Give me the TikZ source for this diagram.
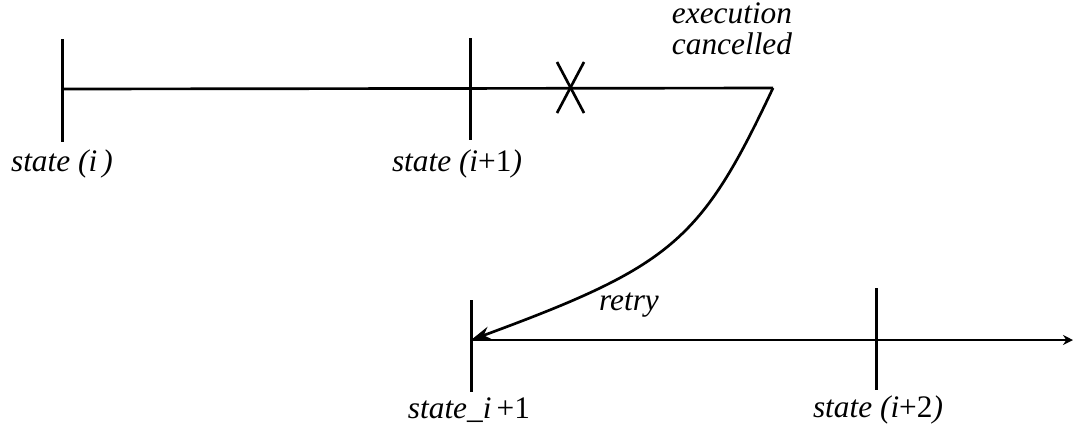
\documentclass[tikz,border=0pt]{standalone}
\usepackage{fontspec}
\setmainfont{Liberation Serif}
\usetikzlibrary{arrows.meta,calc}

\begin{document}
\begin{tikzpicture}[x=0.3pt,y=-0.3pt,line width=0.8pt,
  lbl/.style={font=\fontsize{9.4}{9.4}\selectfont\itshape, inner sep=0pt},
  tick/.style={line width=0.9pt}]
  \useasboundingbox (0,0) rectangle (1074,433);

  % points on the first run
  \coordinate (t0) at (62,89);
  \coordinate (t1) at (470,89);
  \coordinate (cut) at (773,88);
  \coordinate (xc) at (571,88);

  % points on the retried run
  \coordinate (r1) at (471,340);
  \coordinate (r2) at (876,340);
  \coordinate (rend) at (1073,340);

  % first run: line and ticks
  \draw (t0) -- (cut);
  \draw[tick] ($(t0)+(0,-50)$) -- ($(t0)+(0,53)$);
  \draw[tick] ($(t1)+(0,-51)$) -- ($(t1)+(0,51)$);

  % cancel mark
  \draw ($(xc)+(-14,-26)$) -- ($(xc)+(13,25)$);
  \draw ($(xc)+(13,-26)$) -- ($(xc)+(-14,25)$);

  % retry curve
  \draw[-{Stealth[length=6pt,width=4pt]}] (cut) .. controls (701,241) and (672,266) .. (r1);

  % retried run: line and ticks
  \draw[-{Stealth[length=3pt,width=3pt]}] (r1) -- (rend);
  \draw[tick] ($(r1)+(0,-40)$) -- ($(r1)+(0,52)$);
  \draw[tick] ($(r2)+(0,-52)$) -- ($(r2)+(0,50)$);

  % labels
  \node[lbl] (ls0) at (62,164) {state (\textit{i}\,)};
  \node[lbl] (ls1) at (457,164) {state (\textit{i}{\upshape +1})};
  \node[lbl, align=center] (lcan) at (732,29) {execution\\cancelled};
  \node[lbl] (lret) at (629,305) {retry};
  \node[lbl] (lr1) at (469,410) {state\_\textit{i}\,{\upshape +1}};
  \node[lbl] (lr2) at (878,410) {state (\textit{i}{\upshape +2})};
\end{tikzpicture}
\end{document}
